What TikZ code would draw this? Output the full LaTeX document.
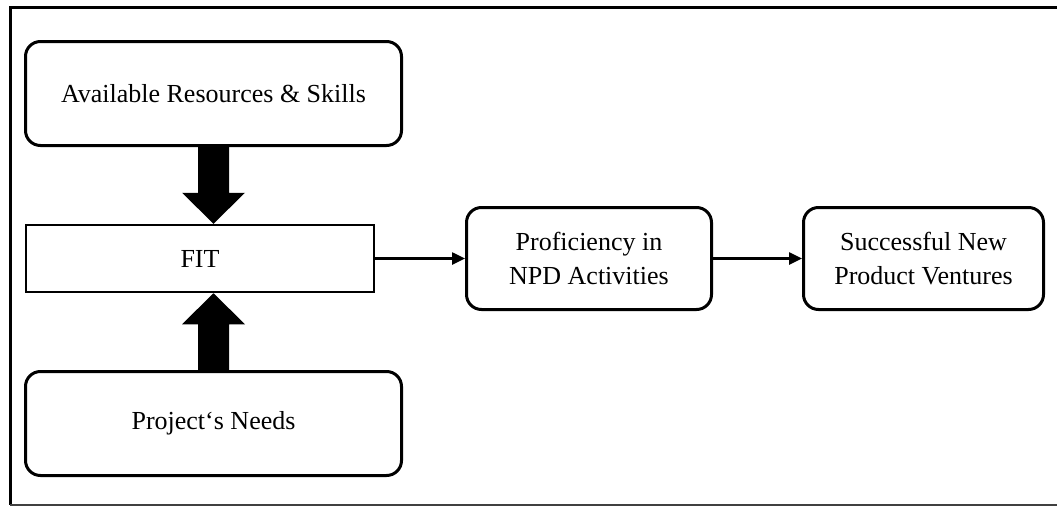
\documentclass[tikz,border=0pt]{standalone}
\usepackage{fontspec}
\setmainfont{Liberation Serif}
\usetikzlibrary{calc,arrows.meta}

\tikzset{
  x=1pt, y=-1pt,
  boxtext/.style={font=\fontsize{26}{34}\selectfont, align=center, text=black},
  roundbox/.style={boxtext, draw=black, line width=3pt, rounded corners=15pt, inner sep=0pt},
  fitbox/.style={boxtext, draw=black, line width=2.5pt, inner sep=0pt},
  flow/.style={line width=2.5pt, -{Triangle[length=13pt,width=12pt]}},
  blockarrow/.style={fill=black},
}

\begin{document}
\begin{tikzpicture}
  \useasboundingbox (0,0) rectangle (1057,506);

  % outer frame (open on the right)
  \coordinate (frameTL) at (10,7.5);
  \coordinate (frameTR) at (1057,7.5);
  \coordinate (frameBL) at (10,505);
  \coordinate (frameBR) at (1057,505);
  \draw[line width=3pt] (frameTR) -- (frameTL) -- (frameBL);
  \draw[line width=1.5pt, black!75] (frameBL) -- (frameBR);

  % boxes
  \node[roundbox, minimum width=376pt, minimum height=104pt] (res) at (213.5,93.5) {Available Resources \& Skills};
  \node[roundbox, minimum width=376pt, minimum height=104pt] (needs) at (213.5,423.5) {Project‘s Needs};
  \node[fitbox, minimum width=348pt, minimum height=67pt] (fit) at (200,258.5) {FIT};
  \node[roundbox, minimum width=245pt, minimum height=102pt] (prof) at (589,258.5) {Proficiency in\\NPD Activities};
  \node[roundbox, minimum width=240pt, minimum height=102pt] (succ) at (923.5,258.5) {Successful New\\Product Ventures};

  % block arrows into FIT
  \coordinate (downtip) at (res.south |- fit.north);
  \fill[blockarrow] ($(res.south)+(-15.5,0)$) -- ($(downtip)+(-15.5,-31)$) -- ($(downtip)+(-31.5,-31)$)
    -- (downtip) -- ($(downtip)+(31.5,-31)$) -- ($(downtip)+(15.5,-31)$) -- ($(res.south)+(15.5,0)$) -- cycle;

  \coordinate (uptip) at (needs.north |- fit.south);
  \fill[blockarrow] ($(needs.north)+(-15.5,0)$) -- ($(uptip)+(-15.5,31)$) -- ($(uptip)+(-31.5,31)$)
    -- (uptip) -- ($(uptip)+(31.5,31)$) -- ($(uptip)+(15.5,31)$) -- ($(needs.north)+(15.5,0)$) -- cycle;

  % flow arrows
  \draw[flow] (fit.east) -- (prof.west);
  \draw[flow] (prof.east) -- (succ.west);
\end{tikzpicture}
\end{document}
